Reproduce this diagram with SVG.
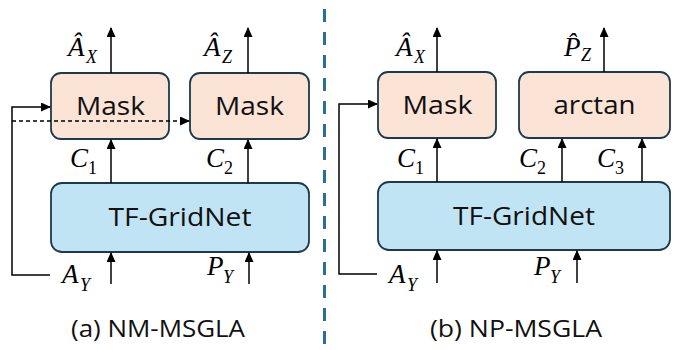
<svg xmlns="http://www.w3.org/2000/svg" width="681" height="350" viewBox="0 0 681 350">
<defs>
<marker id="ah" markerWidth="10" markerHeight="9" refX="9" refY="4.5" orient="auto" markerUnits="userSpaceOnUse">
<path d="M0,0 L10,4.5 L0,9 z" fill="#000"/>
</marker>
<style>
.mask{fill:#fbe3d6;stroke:#1c3a4b;stroke-width:1.8}
.net{fill:#c1e4f5;stroke:#1c3a4b;stroke-width:1.8}
.lbl{font-family:"Open Sans","DejaVu Sans",sans-serif;font-size:26px;fill:#111;text-anchor:middle}
.cap{font-family:"Open Sans","DejaVu Sans",sans-serif;font-size:23px;fill:#111;text-anchor:middle}
.m{font-family:"Liberation Serif",serif;font-style:italic;font-size:27px;fill:#000}
.s{font-size:18px}
.u{font-style:normal}
.ar{fill:none;stroke:#000;stroke-width:1.5;marker-end:url(#ah)}
</style>
</defs>
<rect width="681" height="350" fill="#fff"/>
<line x1="324.5" y1="9" x2="324.5" y2="350" stroke="#2b6f94" stroke-width="3" stroke-dasharray="13 10"/>

<g id="maskA1"><rect class="mask" x="51" y="73" width="118" height="66" rx="10"/><text class="lbl" x="110.5" y="115" textLength="69" lengthAdjust="spacingAndGlyphs">Mask</text></g>
<g id="maskA2"><rect class="mask" x="190" y="73" width="119" height="66" rx="10"/><text class="lbl" x="249.5" y="115" textLength="69" lengthAdjust="spacingAndGlyphs">Mask</text></g>
<g id="netA"><rect class="net" x="51" y="183" width="258" height="69" rx="11"/><text class="lbl" x="180" y="226" textLength="143" lengthAdjust="spacingAndGlyphs">TF-GridNet</text></g>

<g id="maskB"><rect class="mask" x="378" y="72" width="118" height="66" rx="10"/><text class="lbl" x="437.5" y="114" textLength="70" lengthAdjust="spacingAndGlyphs">Mask</text></g>
<g id="arctanB"><rect class="mask" x="519" y="72" width="151" height="66" rx="10"/><text class="lbl" x="594.5" y="114" textLength="82" lengthAdjust="spacingAndGlyphs">arctan</text></g>
<g id="netB"><rect class="net" x="378" y="182" width="292" height="68" rx="11"/><text class="lbl" x="524" y="225" textLength="142" lengthAdjust="spacingAndGlyphs">TF-GridNet</text></g>

<g id="connectors">
<line class="ar" x1="111" y1="73" x2="111" y2="28"/>
<line class="ar" x1="248" y1="73" x2="248" y2="28"/>
<line class="ar" x1="111" y1="183" x2="111" y2="140"/>
<line class="ar" x1="248" y1="183" x2="248" y2="140"/>
<line class="ar" x1="111" y1="284" x2="111" y2="253"/>
<line class="ar" x1="249" y1="284" x2="249" y2="253"/>
<polyline class="ar" points="50,275 12,275 12,107 50,107"/>
<polyline class="ar" points="12,121 189,121" stroke-dasharray="4 3"/>

<line class="ar" x1="437" y1="72" x2="437" y2="28"/>
<line class="ar" x1="604" y1="72" x2="604" y2="28"/>
<line class="ar" x1="437" y1="182" x2="437" y2="139"/>
<line class="ar" x1="562" y1="182" x2="562" y2="139"/>
<line class="ar" x1="642" y1="182" x2="642" y2="139"/>
<line class="ar" x1="437" y1="283" x2="437" y2="251"/>
<line class="ar" x1="577" y1="283" x2="577" y2="251"/>
<polyline class="ar" points="377,274 339,274 339,104 377,104"/>
</g>

<g id="labels">
<text class="m" x="68" y="56">Â<tspan class="s" x="86" y="63">X</tspan></text>
<text class="m" x="204" y="56">Â<tspan class="s" x="222" y="63">Z</tspan></text>
<text class="m" x="70" y="167">C<tspan class="s u" x="88" y="174">1</tspan></text>
<text class="m" x="206" y="167">C<tspan class="s u" x="224" y="174">2</tspan></text>
<text class="m" x="62" y="283">A<tspan class="s" x="80" y="291">Y</tspan></text>
<text class="m" x="207" y="275">P<tspan class="s" x="223" y="283">Y</tspan></text>

<text class="m" x="396" y="56">Â<tspan class="s" x="414" y="63">X</tspan></text>
<text class="m" x="564" y="56">P̂<tspan class="s" x="581" y="61">Z</tspan></text>
<text class="m" x="397" y="167">C<tspan class="s u" x="415" y="174">1</tspan></text>
<text class="m" x="519" y="167">C<tspan class="s u" x="537" y="174">2</tspan></text>
<text class="m" x="597" y="167">C<tspan class="s u" x="615" y="174">3</tspan></text>
<text class="m" x="389" y="283">A<tspan class="s" x="407" y="291">Y</tspan></text>
<text class="m" x="534" y="275">P<tspan class="s" x="550" y="283">Y</tspan></text>
</g>

<text class="cap" x="158" y="337" textLength="174" lengthAdjust="spacingAndGlyphs">(a) NM-MSGLA</text>
<text class="cap" x="516" y="337" textLength="172" lengthAdjust="spacingAndGlyphs">(b) NP-MSGLA</text>
</svg>
